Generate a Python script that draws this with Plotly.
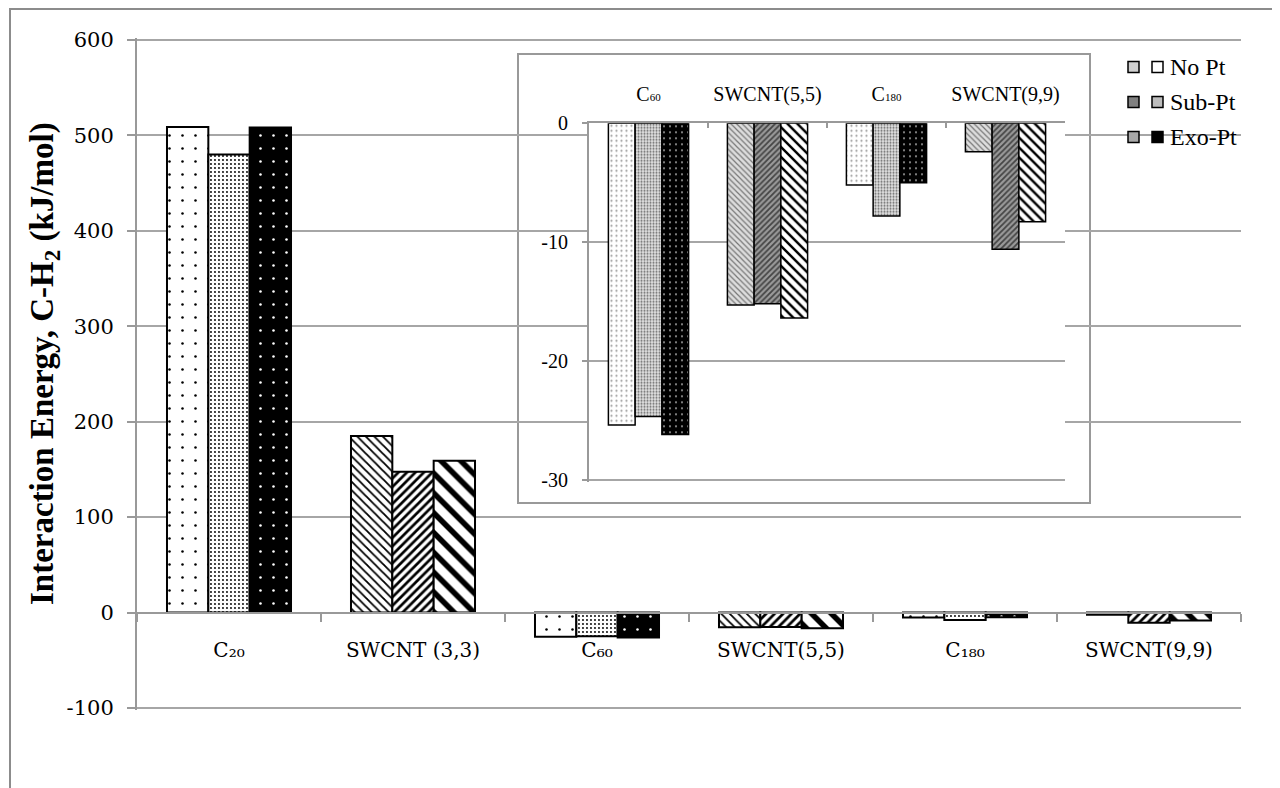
import plotly.graph_objects as go

# ---------------- data ----------------
categories = ["C₂₀", "SWCNT (3,3)", "C₆₀", "SWCNT(5,5)", "C₁₈₀", "SWCNT(9,9)"]
no_pt = [508.9, 185.0, -25.4, -15.3, -5.2, -2.4]
sub_pt = [480.0, 147.6, -24.7, -15.2, -7.8, -10.6]
exo_pt = [508.3, 159.2, -26.2, -16.4, -5.0, -8.3]

inset_labels = ["C<span style='font-size:11px'>60</span>", "SWCNT(5,5)",
                "C<span style='font-size:11px'>180</span>", "SWCNT(9,9)"]
inset_no_pt = no_pt[2:]
inset_sub_pt = sub_pt[2:]
inset_exo_pt = exo_pt[2:]

series_names = ["No Pt", "Sub-Pt", "Exo-Pt"]
y_ticks = [-100, 0, 100, 200, 300, 400, 500, 600]
y_tick_text = ["-100", "0", "100", "200", "300", "400", "500", "600"]
inset_ticks = [-30, -20, -10, 0]
inset_tick_text = ["-30", "-20", "-10", "0"]

# ---------------- geometry (page pixels; body margin of 8px) ----------------
OFF = 8
W, H = 1280 - OFF, 788 - OFF
PX_PER_UNIT = 668 / 700            # 600 at y=40, -100 at y=708
EXT = 2.0                          # px of extra range so end gridlines are drawn
P_L, P_R = 137, 1241
P_T, P_B = 40 - EXT, 708 + EXT     # plot area in page pixels
YR = [-100 - EXT / PX_PER_UNIT, 600 + EXT / PX_PER_UNIT]
ML, MR, MT, MB = P_L - OFF, W - (P_R - OFF), P_T - OFF, H - (P_B - OFF)
PW, PH = P_R - P_L, P_B - P_T
CAT_W = PW / 6

IN_PX_PER_UNIT = (479.5 - 123.3) / 30
IN_EXT = 2.0
IN_YR = [-30 - IN_EXT / IN_PX_PER_UNIT, 0]


def px(x):
    return (x - P_L) / PW


def py(y):
    return (P_B - y) / PH


def dx(x):  # page x -> main category data coordinate
    return -0.5 + (x - P_L) / CAT_W


def dy(y):  # page y -> main value coordinate
    return YR[1] - (y - P_T) * (YR[1] - YR[0]) / PH


GRID = "#a6a6a6"
AXIS = "#999999"
SERIF = "Liberation Serif, Times New Roman, serif"
WIDE_SERIF = "DejaVu Serif, serif"

fig = go.Figure()

# main chart patterns (fullerene: dots, nanotube: stripes)
main_styles = [
    dict(shape=[".", "\\"] * 3, size=[13, 6] * 3, solidity=[0.03, 0.3] * 3,
         fgcolor=["black"] * 6, bgcolor=["white"] * 6),
    dict(shape=[".", "/"] * 3, size=[4, 6] * 3, solidity=[0.18, 0.45] * 3,
         fgcolor=["black"] * 6, bgcolor=["white"] * 6),
    dict(shape=[".", "\\"] * 3, size=[13, 14] * 3, solidity=[0.03, 0.4] * 3,
         fgcolor=["white", "black"] * 3, bgcolor=["black", "white"] * 3),
]
for name, vals, st in zip(series_names, [no_pt, sub_pt, exo_pt], main_styles):
    fig.add_trace(go.Bar(
        x=categories, y=vals, name=name, showlegend=False,
        marker=dict(color="white", line=dict(color="black", width=2),
                    pattern=dict(fillmode="replace", **st)),
        xaxis="x", yaxis="y", hoverinfo="skip"))

inset_styles = [
    dict(shape=[".", "\\"] * 2, size=[5, 4] * 2, solidity=[0.15, 0.3] * 2,
         fgcolor=["#9a9a9a", "#777777"] * 2, bgcolor=["white", "#dddddd"] * 2),
    dict(shape=[".", "/"] * 2, size=[3, 4] * 2, solidity=[0.4, 0.45] * 2,
         fgcolor=["#6a6a6a", "#444444"] * 2, bgcolor=["#e6e6e6", "#9a9a9a"] * 2),
    dict(shape=[".", "\\"] * 2, size=[6, 7] * 2, solidity=[0.1, 0.35] * 2,
         fgcolor=["#9a9a9a", "black"] * 2, bgcolor=["black", "white"] * 2),
]
for name, vals, st in zip(series_names, [inset_no_pt, inset_sub_pt, inset_exo_pt], inset_styles):
    fig.add_trace(go.Bar(
        x=inset_labels, y=vals, name=name, showlegend=False,
        marker=dict(color="white", line=dict(color="black", width=1.5),
                    pattern=dict(fillmode="replace", **st)),
        xaxis="x2", yaxis="y2", hoverinfo="skip"))

shapes = []
# white inset box covering main gridlines (drawn in main subplot, below traces)
shapes.append(dict(type="rect", xref="x", yref="y", layer="below",
                   x0=dx(518), x1=dx(1090), y0=dy(503), y1=dy(54),
                   fillcolor="white", line=dict(color=AXIS, width=2)))
# legend background
shapes.append(dict(type="rect", xref="x", yref="y", layer="below",
                   x0=dx(1124), x1=5.5, y0=dy(152), y1=dy(50),
                   fillcolor="white", line=dict(width=0)))
# outer frame
shapes.append(dict(type="rect", xref="paper", yref="paper", layer="below",
                   x0=px(10), x1=px(1300), y0=py(800), y1=py(9),
                   fillcolor="rgba(0,0,0,0)", line=dict(color="#8c8c8c", width=2)))

# custom legend (two swatches per row)
legend_rows = [67, 102, 137]
sw1 = ["#cfcfcf", "#808080", "#a8a8a8"]
sw2 = ["white", "#bdbdbd", "black"]
annotations = []
for name, yc, c1, c2 in zip(series_names, legend_rows, sw1, sw2):
    for xs, c in ((1128, c1), (1152, c2)):
        shapes.append(dict(type="rect", xref="paper", yref="paper", layer="above",
                           x0=px(xs), x1=px(xs + 11), y0=py(yc + 5.5), y1=py(yc - 5.5),
                           fillcolor=c, line=dict(color="black", width=1.5)))
    annotations.append(dict(text=name, xref="paper", yref="paper", x=px(1168), y=py(yc),
                            xanchor="left", yanchor="middle", showarrow=False,
                            font=dict(family=SERIF, size=24, color="black")))

annotations.append(dict(text="<b>Interaction Energy, C-H<sub>2</sub> (kJ/mol)</b>",
                        xref="paper", yref="paper", x=px(44), y=py(364),
                        textangle=-90, showarrow=False, xanchor="center", yanchor="middle",
                        font=dict(family=SERIF, size=33, color="black")))

fig.update_layout(
    width=W, height=H,
    margin=dict(l=ML, r=MR, t=MT, b=MB, pad=0),
    paper_bgcolor="white", plot_bgcolor="white",
    barmode="group", bargap=0.326, bargroupgap=0,
    showlegend=False,
    shapes=shapes, annotations=annotations,
    xaxis=dict(type="category", domain=[0, 1], anchor="free", position=py(613),
               tickson="boundaries", ticks="outside", ticklen=8, tickwidth=2, tickcolor=AXIS,
               showline=True, linecolor=AXIS, linewidth=2, showgrid=False,
               ticklabelstandoff=19,
               tickfont=dict(family=WIDE_SERIF, size=20, color="black"),
               fixedrange=True),
    yaxis=dict(range=YR, tickvals=y_ticks, ticktext=y_tick_text, ticks="outside", ticklen=8,
               tickwidth=2, tickcolor=AXIS, showline=True, linecolor=AXIS, linewidth=2,
               showgrid=True, gridcolor=GRID, gridwidth=2, zeroline=False,
               ticklabelstandoff=9,
               tickfont=dict(family=WIDE_SERIF, size=21, color="black"),
               domain=[0, 1], anchor="x", fixedrange=True),
    xaxis2=dict(type="category", domain=[px(589), px(1065)], anchor="y2", side="top",
                tickson="boundaries", ticks="inside", ticklen=5, tickwidth=1.5, tickcolor=AXIS,
                showline=True, linecolor=AXIS, linewidth=2, showgrid=False,
                ticklabelstandoff=12,
                tickfont=dict(family=SERIF, size=20, color="black"), fixedrange=True),
    yaxis2=dict(range=IN_YR, tickvals=inset_ticks, ticktext=inset_tick_text,
                domain=[py(479.5 + IN_EXT), py(123.3)],
                anchor="x2", ticks="outside", ticklen=5, tickwidth=1.5, tickcolor=AXIS,
                showline=True, linecolor=AXIS, linewidth=2,
                showgrid=True, gridcolor=GRID, gridwidth=2, zeroline=False,
                ticklabelstandoff=10,
                tickfont=dict(family=SERIF, size=20, color="black"), fixedrange=True),
)

fig.write_html("out.html")
